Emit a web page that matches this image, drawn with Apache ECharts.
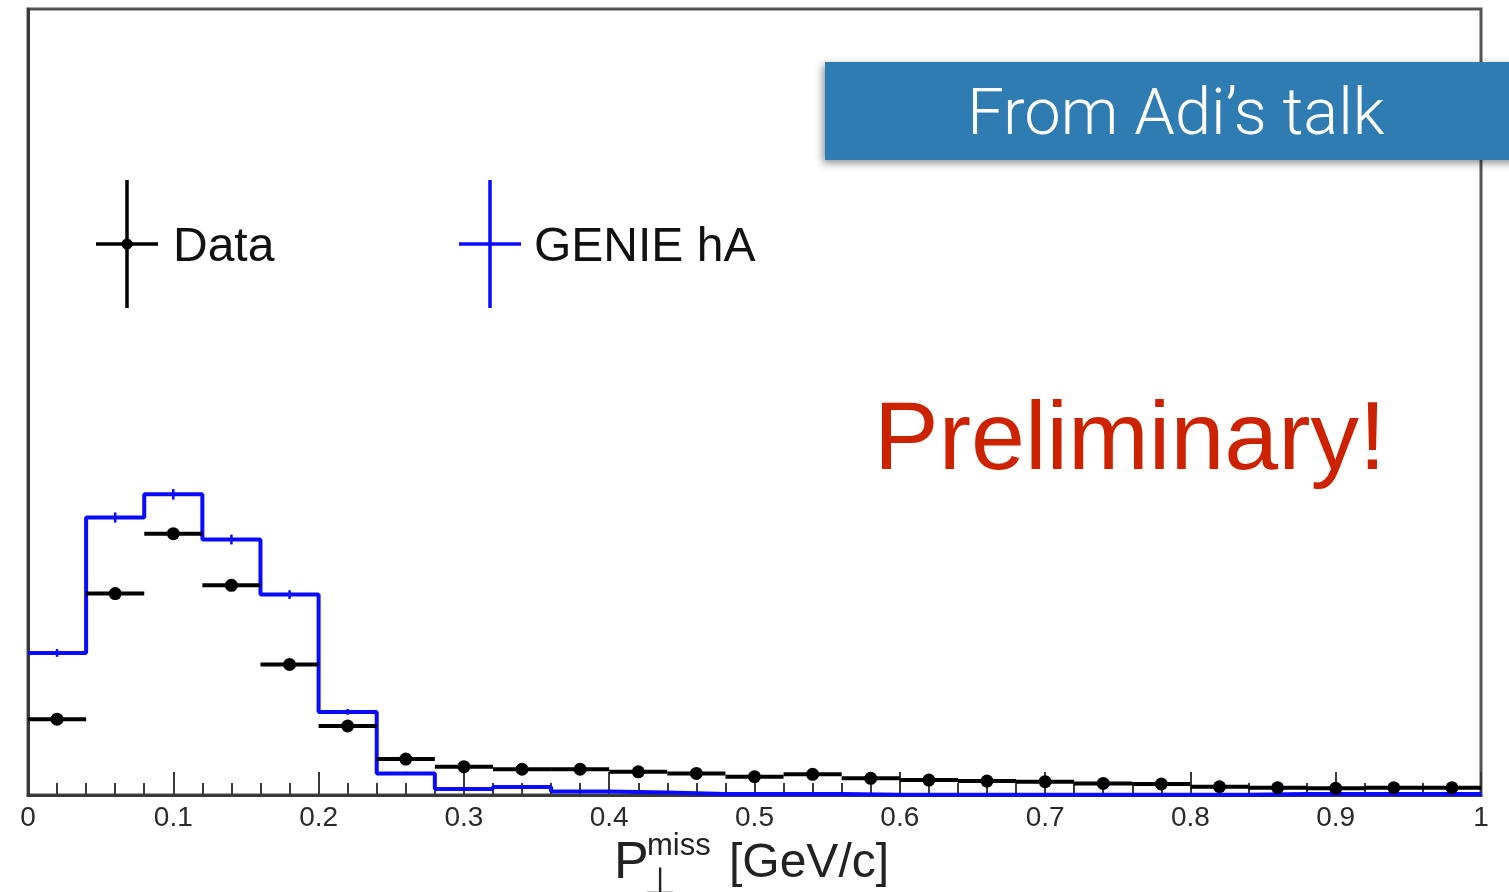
<!DOCTYPE html>
<html>
<head>
<meta charset="utf-8">
<title>P_T miss distribution</title>
<script src="https://cdn.jsdelivr.net/npm/echarts@6/dist/echarts.min.js"></script>
<style>
  html, body { margin: 0; padding: 0; background: #ffffff; }
  #chart { width: 1509px; height: 892px; }
</style>
</head>
<body>
<div id="chart"></div>
<script>
// Bin centres of the missing transverse momentum histogram [GeV/c]
const binCenters = [0.02, 0.06, 0.10, 0.14, 0.18, 0.22, 0.26, 0.30, 0.34, 0.38,
                    0.42, 0.46, 0.50, 0.54, 0.58, 0.62, 0.66, 0.70, 0.74, 0.78,
                    0.82, 0.86, 0.90, 0.94, 0.98];
const binWidth = 0.04;

// Measured yields and their statistical errors
const dataValues = [38.6, 102.5, 133.0, 106.7, 66.4, 35.1, 18.3, 14.4, 13.1, 13.1,
                    11.8, 11.0, 9.3, 10.5, 8.5, 7.6, 7.1, 6.8, 5.9, 5.6,
                    4.2, 3.7, 3.4, 3.7, 3.7];
const dataErrors = [1.6, 2.4, 2.8, 2.5, 2.0, 1.5, 1.1, 1.0, 0.9, 0.9,
                    0.9, 0.8, 0.8, 0.8, 0.7, 0.7, 0.7, 0.7, 0.6, 0.6,
                    0.5, 0.5, 0.5, 0.5, 0.5];

// GENIE hA simulation, same binning
const genieValues = [72.3, 141.2, 153.0, 130.0, 102.0, 42.3, 11.0, 3.0, 4.1, 1.8,
                     1.3, 0.5, 0.5, 0.5, 0.15, 0.15, 0.15, 0.15, 0.15, 0.15,
                     0.15, 0.5, 0.5, 0.5, 0.5];
const genieErrors = [2.0, 2.6, 2.7, 2.5, 2.2, 1.5, 0.8, 0.4, 0.5, 0.3,
                     0.3, 0.2, 0.2, 0.2, 0.1, 0.1, 0.1, 0.1, 0.1, 0.1,
                     0.1, 0.2, 0.2, 0.2, 0.2];

// Axis settings
const xMin = 0, xMax = 1, xStep = 0.1;
const yMin = 0, yMax = 400;
const xTickLabels = ['0', '0.1', '0.2', '0.3', '0.4', '0.5', '0.6', '0.7', '0.8', '0.9', '1'];

const legendNames = ['Data', 'GENIE hA'];

// Step outline of the simulation: left edge of each bin, closed at the last right edge
const genieStep = binCenters.map((c, i) => [c - binWidth / 2, genieValues[i]]);
genieStep.push([binCenters[binCenters.length - 1] + binWidth / 2, genieValues[genieValues.length - 1]]);

const dataPoints = binCenters.map((c, i) => [c, dataValues[i], dataErrors[i]]);
const geniePoints = binCenters.map((c, i) => [c, genieValues[i], genieErrors[i]]);

const chart = echarts.init(document.getElementById('chart'), null, { renderer: 'canvas' });

function renderData(params, api) {
  const x = api.value(0), y = api.value(1), e = api.value(2);
  const left = api.coord([x - binWidth / 2, y]);
  const right = api.coord([x + binWidth / 2, y]);
  const top = api.coord([x, y + e]);
  const bottom = api.coord([x, Math.max(0, y - e)]);
  const c = api.coord([x, y]);
  const stroke = { stroke: '#000', lineWidth: 4 };
  return {
    type: 'group',
    children: [
      { type: 'line', shape: { x1: left[0], y1: left[1], x2: right[0], y2: right[1] }, style: stroke },
      { type: 'line', shape: { x1: top[0], y1: top[1], x2: bottom[0], y2: bottom[1] }, style: stroke },
      { type: 'circle', shape: { cx: c[0], cy: c[1], r: 6.5 }, style: { fill: '#000' } }
    ]
  };
}

function renderGenieErr(params, api) {
  const x = api.value(0), y = api.value(1), e = api.value(2);
  const top = api.coord([x, y + e]);
  const bottom = api.coord([x, Math.max(0, y - e)]);
  return {
    type: 'line',
    shape: { x1: top[0], y1: top[1], x2: bottom[0], y2: bottom[1] },
    style: { stroke: '#0a0aff', lineWidth: 2.5 }
  };
}

const font = '"Liberation Sans", Arial, Helvetica, sans-serif';

const option = {
  backgroundColor: '#ffffff',
  animation: false,
  grid: {
    left: 28, right: 28, top: 9, bottom: 97,
    show: true, borderColor: '#555', borderWidth: 3, backgroundColor: 'transparent'
  },
  xAxis: {
    type: 'value', min: xMin, max: xMax, interval: xStep,
    axisLine: { show: true, onZero: false, lineStyle: { color: '#3a3a3a', width: 3 } },
    axisTick: { show: true, inside: true, length: 23, lineStyle: { color: '#3a3a3a', width: 2 } },
    minorTick: { show: true, splitNumber: 5, length: 12, lineStyle: { color: '#3a3a3a', width: 2 } },
    splitLine: { show: false },
    axisLabel: {
      show: true, margin: 9, fontSize: 28, color: '#2a2a2a', fontFamily: font,
      showMinLabel: true, showMaxLabel: true,
      formatter: (v) => xTickLabels[Math.round((v - xMin) / xStep)]
    }
  },
  yAxis: {
    type: 'value', min: yMin, max: yMax,
    axisLine: { show: true, lineStyle: { color: '#3a3a3a', width: 3 } },
    axisTick: { show: false },
    axisLabel: { show: false },
    splitLine: { show: false }
  },
  series: [
    {
      name: legendNames[1], type: 'line', step: 'end', data: genieStep,
      showSymbol: false, lineStyle: { color: '#0a0aff', width: 4 }, z: 3
    },
    {
      name: legendNames[1] + ' errors', type: 'custom', renderItem: renderGenieErr,
      data: geniePoints, z: 4
    },
    {
      name: legendNames[0], type: 'custom', renderItem: renderData,
      data: dataPoints, z: 5
    }
  ],
  graphic: [
    // legend: Data
    { type: 'line', shape: { x1: 127, y1: 180, x2: 127, y2: 308 }, style: { stroke: '#000', lineWidth: 3.5 }, z: 10 },
    { type: 'line', shape: { x1: 96, y1: 244, x2: 158, y2: 244 }, style: { stroke: '#000', lineWidth: 3.5 }, z: 10 },
    { type: 'circle', shape: { cx: 127, cy: 244, r: 5.5 }, style: { fill: '#000' }, z: 10 },
    { type: 'text', x: 173, y: 248, style: { text: legendNames[0], fontSize: 48, fontFamily: font, fill: '#111', verticalAlign: 'middle' }, z: 10 },
    // legend: GENIE hA
    { type: 'line', shape: { x1: 490, y1: 180, x2: 490, y2: 308 }, style: { stroke: '#0a0aff', lineWidth: 3.5 }, z: 10 },
    { type: 'line', shape: { x1: 459, y1: 244, x2: 521, y2: 244 }, style: { stroke: '#0a0aff', lineWidth: 3.5 }, z: 10 },
    { type: 'text', x: 534, y: 248, style: { text: legendNames[1], fontSize: 48, fontFamily: font, fill: '#111', verticalAlign: 'middle' }, z: 10 },
    // source banner
    {
      type: 'rect', shape: { x: 825, y: 62, width: 700, height: 98 },
      style: { fill: '#2f7cb2', shadowBlur: 8, shadowColor: 'rgba(0,0,0,0.45)', shadowOffsetX: -2, shadowOffsetY: 3 },
      z: 20
    },
    { type: 'text', x: 1176, y: 118, style: { text: 'From Adi\u2019s talk', fontSize: 65, fontFamily: 'Roboto, "Open Sans", sans-serif', fontWeight: 300, fill: '#ffffff', align: 'center', verticalAlign: 'middle' }, z: 21 },
    // status note
    { type: 'text', x: 874, y: 442, style: { text: 'Preliminary!', fontSize: 97, fontFamily: font, fill: '#cc2200', verticalAlign: 'middle' }, z: 10 },
    // x axis title: P_perp^miss [GeV/c]
    { type: 'text', x: 614, y: 864, style: { text: 'P', fontSize: 52, fontFamily: font, fill: '#222', verticalAlign: 'middle' }, z: 10 },
    { type: 'text', x: 647, y: 846, style: { text: 'miss', fontSize: 31, fontFamily: font, fill: '#222', verticalAlign: 'middle' }, z: 10 },
    { type: 'text', x: 660, y: 884, style: { text: '\u22A5', fontSize: 38, fontFamily: '"DejaVu Sans", sans-serif', fill: '#222', align: 'center', verticalAlign: 'middle' }, z: 10 },
    { type: 'text', x: 729, y: 864, style: { text: '[GeV/c]', fontSize: 48, fontFamily: font, fill: '#222', verticalAlign: 'middle' }, z: 10 }
  ]
};

chart.setOption(option);
</script>
</body>
</html>
